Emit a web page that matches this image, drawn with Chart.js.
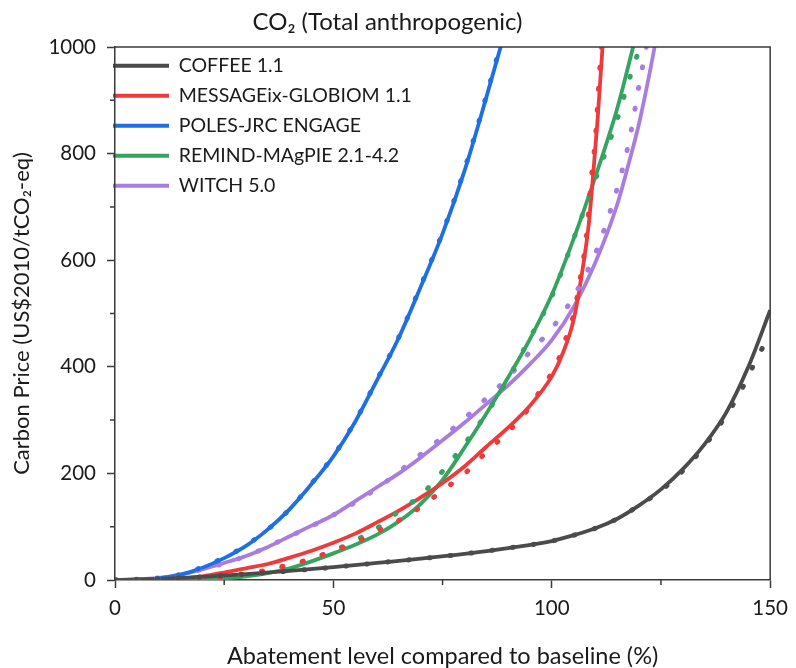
<!DOCTYPE html>
<html>
<head>
<meta charset="utf-8">
<script src="https://cdn.jsdelivr.net/npm/chart.js@4/dist/chart.umd.min.js"></script>
<style>
  html, body { margin: 0; padding: 0; background: #ffffff; }
  #wrap { width: 796px; height: 668px; }
</style>
</head>
<body>
<div id="wrap"><canvas id="c" width="796" height="668"></canvas></div>
<script>
// ---------- DATA ----------
const chartTitle = 'CO\u2082 (Total anthropogenic)';
const xAxisTitle = 'Abatement level compared to baseline (%)';
const yAxisTitle = 'Carbon Price (US$2010/tCO\u2082-eq)';

const modelNames = ['COFFEE 1.1', 'MESSAGEix-GLOBIOM 1.1', 'POLES-JRC ENGAGE', 'REMIND-MAgPIE 2.1-4.2', 'WITCH 5.0'];

const xTickValues = [0, 50, 100, 150];
const xMinorTicks = [25, 75, 125];
const yTickValues = [0, 200, 400, 600, 800, 1000];
const yMinorTicks = [100, 300, 500, 700, 900];

// COFFEE 1.1
const coffeeFitX  = [0, 10, 20, 30, 40, 50, 60, 70, 80, 90, 100, 105, 110, 115, 120, 125, 130, 135, 140, 145, 150];
const coffeeFitY  = [0, 2, 6, 11, 17, 24, 32, 40, 49, 60, 73, 84, 97, 115, 140, 170, 208, 255, 315, 400, 506];
const coffeeDataX = [0, 10, 20, 30, 40, 50, 60, 70, 80, 90, 100, 105, 110, 115, 120, 125, 130, 135, 140, 143, 146, 150];
const coffeeDataY = [0, 2, 6, 11, 17, 24, 32, 40, 49, 60, 73, 84, 97, 115, 140, 168, 205, 252, 310, 350, 400, 463];

// MESSAGEix-GLOBIOM 1.1
const messageFitX  = [0, 10, 15, 20, 25, 30, 35, 40, 45, 50, 55, 60, 65, 70, 75, 80, 85, 90, 95, 100, 102.5, 105, 107, 108.5, 109.5, 110.5, 111.5, 112];
const messageFitY  = [0, 1, 3, 7, 14, 22, 30, 42, 55, 70, 87, 108, 130, 155, 182, 213, 250, 286, 327, 382, 425, 488, 580, 670, 763, 865, 985, 1050];
const messageDataX = [0, 10, 20, 25, 30, 35, 40, 45, 50, 55, 60, 65, 70, 75, 80, 85, 90, 95, 98, 101, 103, 105, 106.5, 108, 109, 110, 111, 112];
const messageDataY = [0, 1, 4, 7, 12, 19, 29, 40, 55, 70, 91, 112, 137, 168, 199, 240, 278, 325, 364, 403, 448, 498, 565, 650, 750, 830, 960, 1060];

// POLES-JRC ENGAGE
const polesFitX  = [0, 5, 10, 15, 20, 25, 30, 35, 40, 45, 50, 55, 60, 65, 70, 75, 80, 85, 90];
const polesFitY  = [0, 0.5, 3, 10, 23, 41, 64, 95, 133, 180, 232, 297, 375, 455, 550, 650, 767, 905, 1050];
const polesDataX = [0, 5, 10, 15, 20, 25, 30, 35, 40, 45, 50, 55, 60, 65, 70, 75, 80, 85, 90];
const polesDataY = [0, 0.5, 3, 10, 24, 42, 65, 95, 133, 181, 233, 298, 376, 456, 552, 652, 770, 908, 1055];

// REMIND-MAgPIE 2.1-4.2
const remindFitX  = [0, 15, 20, 25, 30, 35, 40, 45, 50, 55, 60, 65, 70, 75, 80, 85, 90, 95, 100, 105, 110, 115, 118, 120];
const remindFitY  = [0, 0.5, 1.5, 3.5, 7, 13, 22, 35, 50, 66, 85, 110, 143, 188, 248, 312, 380, 452, 535, 640, 757, 885, 980, 1045];
const remindDataX = [0, 15, 20, 25, 30, 35, 40, 45, 50, 55, 60, 65, 70, 75, 80, 85, 90, 95, 100, 105, 110, 113, 115, 116.5, 118, 120, 121];
const remindDataY = [0, 0.5, 1.5, 4, 9, 18, 27, 40, 55, 74, 97, 129, 159, 204, 255, 312, 378, 454, 532, 640, 752, 818, 865, 906, 946, 995, 1020];

// WITCH 5.0
const witchFitX  = [0, 5, 10, 15, 20, 25, 30, 35, 40, 45, 50, 55, 60, 65, 70, 75, 80, 85, 90, 95, 100, 105, 110, 115, 117.5, 120, 122.5, 124];
const witchFitY  = [0, 1, 4, 10, 20, 32, 45, 62, 82, 102, 122, 148, 174, 200, 230, 262, 295, 330, 365, 405, 450, 512, 596, 705, 778, 857, 955, 1020];
const witchDataX = [0, 10, 20, 30, 40, 50, 60, 65, 70, 75, 80, 85, 90, 95, 100, 105, 110, 113, 116, 118, 120, 121, 122];
const witchDataY = [0, 4, 20, 45, 82, 122, 172, 203, 236, 268, 303, 341, 380, 428, 472, 532, 613, 682, 765, 835, 929, 972, 1015];

const modelColors = ['#4b4b4b', '#f0393a', '#1e6fe4', '#34a460', '#a97de0'];

// ---------- BUILD ----------
const pts = (xs, ys) => xs.map((x, i) => ({ x: x, y: ys[i] }));
const fits = [
  pts(coffeeFitX, coffeeFitY), pts(messageFitX, messageFitY), pts(polesFitX, polesFitY),
  pts(remindFitX, remindFitY), pts(witchFitX, witchFitY)
];
const datas = [
  pts(coffeeDataX, coffeeDataY), pts(messageDataX, messageDataY), pts(polesDataX, polesDataY),
  pts(remindDataX, remindDataY), pts(witchDataX, witchDataY)
];

const datasets = [];
modelNames.forEach((name, i) => {
  datasets.push({
    label: name, data: fits[i], borderColor: modelColors[i], backgroundColor: modelColors[i],
    borderWidth: 3.8, pointRadius: 0, cubicInterpolationMode: 'monotone', fill: false, isFit: true, order: 2
  });
});
modelNames.forEach((name, i) => {
  datasets.push({
    label: name + ' (data)', data: datas[i], borderColor: modelColors[i], backgroundColor: modelColors[i],
    borderWidth: 5, borderDash: [1, 20], borderCapStyle: 'round', pointRadius: 0,
    cubicInterpolationMode: 'monotone', fill: false, isFit: false, order: 1
  });
});

const FONT = 'Lato';
const TEXT = '#1a1a1a';
const axisColor = '#3a3a3a';
const LEG_PAD = 10.5;

const framePlugin = {
  id: 'frame',
  afterLayout(chart) {
    const lg = chart.legend, a = chart.chartArea;
    if (lg) {
      const h = lg.bottom - lg.top, w = lg.right - lg.left;
      lg.top = a.top - 1.5; lg.bottom = lg.top + h;
      lg.left = a.left - 2 - LEG_PAD; lg.right = lg.left + w;
    }
  },
  afterDatasetsDraw(chart) {
    const { ctx, chartArea: a, scales } = chart;
    ctx.save();
    ctx.strokeStyle = axisColor;
    ctx.lineWidth = 1.5;
    ctx.beginPath();
    ctx.moveTo(a.left, a.top); ctx.lineTo(a.right, a.top); ctx.lineTo(a.right, a.bottom);
    ctx.stroke();
    ctx.beginPath();
    xMinorTicks.forEach(v => {
      const px = scales.x.getPixelForValue(v);
      ctx.moveTo(px, a.bottom); ctx.lineTo(px, a.bottom + 5);
    });
    yMinorTicks.forEach(v => {
      const py = scales.y.getPixelForValue(v);
      ctx.moveTo(a.left, py); ctx.lineTo(a.left - 5, py);
    });
    ctx.stroke();
    ctx.restore();
  }
};

new Chart(document.getElementById('c'), {
  type: 'line',
  data: { datasets: datasets },
  plugins: [framePlugin],
  options: {
    responsive: false,
    animation: false,
    events: [],
    layout: { padding: { left: 0, right: 21, top: 0, bottom: 0 } },
    plugins: {
      title: {
        display: true, text: chartTitle, color: TEXT,
        font: { family: FONT, size: 24, weight: 'normal', lineHeight: 1.2 },
        padding: { top: 8, bottom: 10.2 }
      },
      legend: {
        position: 'chartArea', align: 'start',
        labels: {
          color: TEXT,
          font: { family: FONT, size: 19.5 },
          boxWidth: 56, boxHeight: 4, padding: LEG_PAD,
          filter: (item, data) => data.datasets[item.datasetIndex].isFit,
          generateLabels: (chart) => {
            const items = Chart.defaults.plugins.legend.labels.generateLabels(chart);
            items.forEach(it => { it.lineWidth = 0; it.strokeStyle = it.fillStyle; });
            return items;
          }
        }
      },
      tooltip: { enabled: false }
    },
    scales: {
      x: {
        type: 'linear', min: 0, max: 150,
        afterFit: (s) => { s.height = 88; },
        afterBuildTicks: (s) => { s.ticks = xTickValues.map(v => ({ value: v })); },
        ticks: { color: TEXT, font: { family: FONT, size: 20.5 }, padding: 8, maxRotation: 0,
                 callback: (v) => String(v) },
        grid: { drawOnChartArea: false, drawTicks: true, tickLength: 8, tickColor: axisColor, tickWidth: 1.5 },
        border: { display: true, color: axisColor, width: 1.5 },
        title: { display: true, text: xAxisTitle, color: TEXT, font: { family: FONT, size: 23.5, lineHeight: 1.0 }, padding: { top: 0, bottom: 0 } }
      },
      y: {
        type: 'linear', min: 0, max: 1000,
        afterFit: (s) => { s.width = 115; },
        afterBuildTicks: (s) => { s.ticks = yTickValues.map(v => ({ value: v })); },
        ticks: { color: TEXT, font: { family: FONT, size: 20.5 }, padding: 11,
                 callback: (v) => String(v) },
        grid: { drawOnChartArea: false, drawTicks: true, tickLength: 8, tickColor: axisColor, tickWidth: 1.5 },
        border: { display: true, color: axisColor, width: 1.5 },
        title: { display: true, text: yAxisTitle, color: TEXT, font: { family: FONT, size: 22, lineHeight: 1.2 }, padding: { top: 9, bottom: 0 } }
      }
    }
  }
});
</script>
</body>
</html>
